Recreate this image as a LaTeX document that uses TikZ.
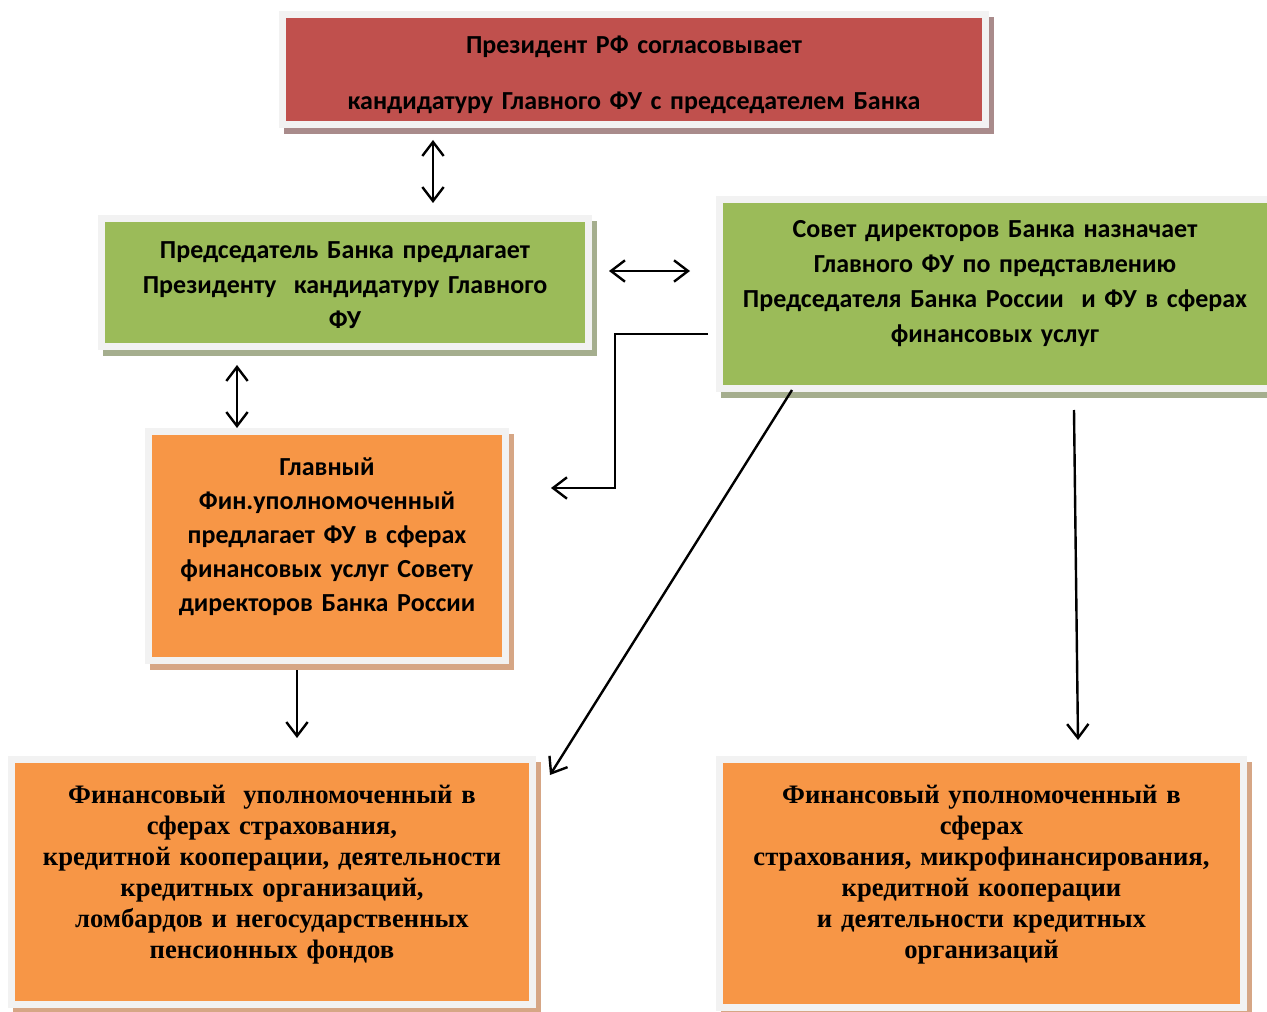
\documentclass[tikz,border=0pt]{standalone}
\usepackage{fontspec}
\setmainfont{Liberation Serif}
\newfontfamily\calb{Carlito}
\usetikzlibrary{arrows.meta,fit}
\definecolor{redF}{HTML}{C0504D}
\definecolor{greenF}{HTML}{9BBB59}
\definecolor{orangeF}{HTML}{F79646}
\definecolor{frameC}{HTML}{F2F2F2}
\definecolor{redS}{HTML}{A98B8B}
\definecolor{greenS}{HTML}{A5AE8E}
\definecolor{orangeS}{HTML}{D6A685}
\begin{document}
\begin{tikzpicture}[x=0.75pt,y=-0.75pt,
  fubox/.style n args={2}{inner sep=0pt, outer sep=0pt, fill=#1,
    preaction={draw=#2, fill=#2, line width=10.5pt, transform canvas={shift={(5,6)}}},
    preaction={draw=frameC, line width=10.5pt}},
  caltxt/.style={inner sep=0pt, align=center, text width=#1,
    font=\calb\bfseries\fontsize{19.5}{26.25}\selectfont},
  sertxt/.style={inner sep=0pt, align=center, text width=#1,
    font=\bfseries\fontsize{20}{23.25}\selectfont},
  arr/.style={line width=1.8pt, -{Straight Barb[length=10.5pt,width=16pt]}},
  darr/.style={line width=1.8pt, {Straight Barb[length=10.5pt,width=16pt]}-{Straight Barb[length=10.5pt,width=16pt]}}]
\useasboundingbox (0,0) rectangle (1267,1012);
\clip (0,0) rectangle (1267,1012);

% boxes
\node[fubox={redF}{redS}, fit={(286,18) (982,121)}] (pres) {};
\node[fubox={greenF}{greenS}, fit={(105,222) (585,343)}] (chair) {};
\node[fubox={greenF}{greenS}, fit={(723,203) (1267,385)}] (board) {};
\node[fubox={orangeF}{orangeS}, fit={(152,435) (502,657)}] (chief) {};
\node[fubox={orangeF}{orangeS}, fit={(15,763) (529,1001)}] (fuA) {};
\node[fubox={orangeF}{orangeS}, fit={(723,763) (1240,1004)}] (fuB) {};

% texts
\node[caltxt=510pt, font=\calb\bfseries\fontsize{19.5}{42}\selectfont] (presT) at (634,74.5)
  {Президент РФ согласовывает\\кандидатуру Главного ФУ с председателем Банка};
\node[caltxt=352pt] (chairT) at (345,285)
  {Председатель Банка предлагает\\Президенту \ кандидатуру Главного\\ФУ};
\node[caltxt=405pt] (boardT) at (995,284)
  {Совет директоров Банка назначает\\Главного ФУ по представлению\\Председателя Банка России \ и ФУ в сферах\\финансовых услуг};
\node[caltxt=259pt, font=\calb\bfseries\fontsize{19.5}{25.5}\selectfont] (chiefT) at (327,537)
  {Главный\\Фин.уполномоченный\\предлагает ФУ в сферах\\финансовых услуг Совету\\директоров Банка России};
\node[sertxt=382pt] (fuAT) at (272,874.5)
  {Финансовый \ уполномоченный в\\сферах страхования,\\кредитной кооперации, деятельности\\кредитных организаций,\\ломбардов и негосударственных\\пенсионных фондов};
\node[sertxt=382pt] (fuBT) at (981.5,874.5)
  {Финансовый уполномоченный в\\сферах\\страхования, микрофинансирования,\\кредитной кооперации\\и деятельности кредитных\\организаций};

% connector end points
\coordinate (p1) at (433,140);
\coordinate (c1) at (433,203);
\coordinate (c2) at (609,271);
\coordinate (b1) at (690,271);
\coordinate (c3) at (237,365);
\coordinate (h1) at (237,428);
\coordinate (b2) at (708,334);
\coordinate (e1) at (615,334);
\coordinate (e2) at (615,488);
\coordinate (h2) at (551,488);
\coordinate (b3) at (792,390);
\coordinate (a1) at (550,775);
\coordinate (b4) at (1074,410);
\coordinate (a2) at (1078,740);
\coordinate (h3) at (297,670);
\coordinate (a3) at (297,738);

% connectors
\draw[darr] (p1) -- (c1);
\draw[darr] (c2) -- (b1);
\draw[darr] (c3) -- (h1);
\draw[arr] (b2) -- (e1) -- (e2) -- (h2);
\draw[arr] (b3) -- (a1);
\draw[arr] (b4) -- (a2);
\draw[arr] (h3) -- (a3);
\end{tikzpicture}
\end{document}
